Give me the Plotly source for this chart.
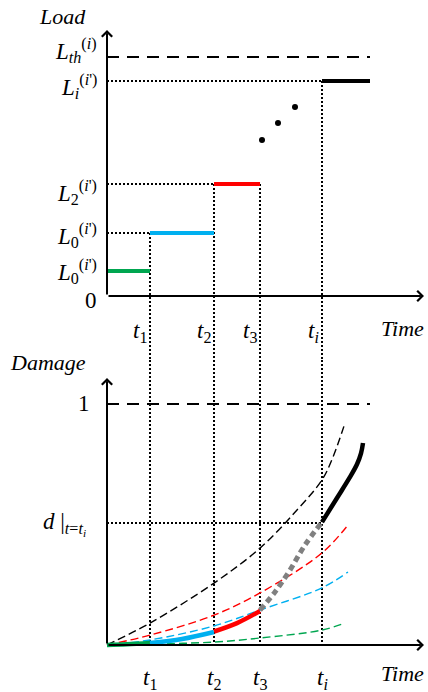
import plotly.graph_objects as go

# ---------------- data ----------------
# time marks t1, t2, t3, ti (common time units)
t_marks = [43, 107, 153, 215]
t_names = ["1", "2", "3", "i"]
t_end = 263            # end of the last load step
t_axis_end = 317       # arrow tip of time axes

# load history (top panel)
seg_start = [0, 43, 107, 215]
seg_end = [43, 107, 153, 263]
seg_level = [25, 63, 112, 215]
seg_color = ["#00A650", "#00B0F0", "#FF0000", "#000000"]
load_threshold = 239
load_axis_top = 266
dots_t = [155, 171, 188]
dots_load = [156, 173, 189]
vline_from = [63, 112, 112, 215]   # top of each vertical dotted line
hline_level = [63, 112, 215]       # dotted guide levels
hline_end = [43, 107, 215]

load_labels = [
    "<i>L</i><sub><i>th</i></sub><sup>(<i>i</i>)</sup>",
    "<i>L</i><sub><i>i</i></sub><sup>(<i>i</i>')</sup>",
    "<i>L</i><sub>2</sub><sup>(<i>i</i>')</sup>",
    "<i>L</i><sub>0</sub><sup>(<i>i</i>')</sup>",
    "<i>L</i><sub>0</sub><sup>(<i>i</i>')</sup>",
    "0",
]
load_label_y = [246, 210, 104, 61, 25, -4]

# damage curves (bottom panel)
dmg_t_black = [0, 43, 107, 153, 190, 215, 226, 238]
dmg_black = [0, 0.091, 0.257, 0.402, 0.560, 0.685, 0.780, 0.921]
dmg_t_red = [0, 43, 107, 153, 215, 241]
dmg_red = [0, 0.041, 0.124, 0.216, 0.382, 0.498]
dmg_t_blue = [0, 43, 107, 153, 215, 241]
dmg_blue = [0, 0.021, 0.079, 0.145, 0.237, 0.303]
dmg_t_green = [0, 43, 107, 153, 215, 238]
dmg_green = [0, 0.004, 0.012, 0.029, 0.062, 0.091]

path_t_green = [0, 20, 43]
path_green = [0, 0.003, 0.008]
path_t_blue = [43, 75, 107]
path_blue = [0.008, 0.025, 0.054]
path_t_red = [107, 130, 153]
path_red = [0.056, 0.091, 0.141]
path_t_gray = [153, 168, 183, 198, 215]
path_gray = [0.145, 0.220, 0.311, 0.415, 0.510]
path_t_black = [215, 230, 242, 250, 254, 256]
path_black = [0.510, 0.610, 0.690, 0.750, 0.795, 0.838]

damage_one = 1.0
d_ti = 0.506
damage_axis_top = 1.108

# ------------------------------------------------------------
FONT = "Liberation Serif, Times New Roman, serif"
DOT = "2px,2px"
fig = go.Figure()

def line(x, y, axis="y", color="black", width=2, dash=None, shape="linear"):
    fig.add_trace(go.Scatter(x=x, y=y, yaxis=axis, mode="lines",
                             line=dict(color=color, width=width, dash=dash, shape=shape),
                             hoverinfo="skip", showlegend=False))

GAP_LOAD = -64
GAP_DMG = 1.1826

# dotted guides
for lv, te in zip(hline_level, hline_end):
    line([0, te], [lv, lv], dash=DOT)
for tm, lv in zip(t_marks, vline_from):
    line([tm, tm], [lv, GAP_LOAD], dash=DOT)
    line([tm, tm], [GAP_DMG, 0], axis="y2", dash=DOT)
line([0, t_marks[3]], [d_ti, d_ti], axis="y2", dash=DOT)

# threshold dashed lines
line([0, t_end], [load_threshold, load_threshold], width=2, dash="12px,8px")
line([0, t_end], [damage_one, damage_one], axis="y2", width=2, dash="12px,8px")

# load steps
for s, e, lv, c in zip(seg_start, seg_end, seg_level, seg_color):
    line([s, e], [lv, lv], color=c, width=4)
fig.add_trace(go.Scatter(x=dots_t, y=dots_load, mode="markers",
                         marker=dict(color="black", size=6), hoverinfo="skip", showlegend=False))

# damage dashed curves
for tt, dd, c in [(dmg_t_black, dmg_black, "black"), (dmg_t_red, dmg_red, "#FF0000"),
                  (dmg_t_blue, dmg_blue, "#00B0F0"), (dmg_t_green, dmg_green, "#00A650")]:
    line(tt, dd, axis="y2", color=c, width=1.4, dash="8px,4px", shape="spline")

# damage path
line(path_t_gray, path_gray, axis="y2", color="#808080", width=5, dash="6px,4px", shape="spline")
for tt, dd, c in [(path_t_green, path_green, "#00A650"), (path_t_blue, path_blue, "#00B0F0"),
                  (path_t_red, path_red, "#FF0000"), (path_t_black, path_black, "black")]:
    line(tt, dd, axis="y2", color=c, width=4.5, shape="spline")

annotations = []

def arrow(x0, y0, x1, y1, yref):
    annotations.append(dict(x=x1, y=y1, ax=x0, ay=y0, xref="x", yref=yref,
                            axref="x", ayref=yref, text="", showarrow=True,
                            arrowhead=4, arrowsize=1, arrowwidth=2, arrowcolor="black",
                            standoff=0, startstandoff=0))

arrow(0, 0, 0, load_axis_top, "y")
arrow(0, 0, t_axis_end, 0, "y")
arrow(0, 0, 0, damage_axis_top, "y2")
arrow(0, 0, t_axis_end, 0, "y2")

def text(s, x, y, yref, size=23, xanchor="center", yanchor="middle"):
    annotations.append(dict(text=s, x=x, y=y, xref="x", yref=yref, showarrow=False,
                            xanchor=xanchor, yanchor=yanchor,
                            font=dict(family=FONT, size=size, color="black")))

text("<i>Load</i>", -45, 280, "y", size=22)
text("<i>Time</i>", 295, -32, "y", size=22)
for s, yy in zip(load_labels, load_label_y):
    text(s, -8, yy, "y", xanchor="right")
for tm, nm in zip(t_marks, t_names):
    sub = "<i>%s</i>" % nm if nm == "i" else nm
    text("<i>t</i><sub>%s</sub>" % sub, tm - 1, -36, "y", xanchor="right")
    text("<i>t</i><sub>%s</sub>" % sub, tm, -0.14, "y2")

text("<i>Damage</i>", -59, 1.17, "y2", size=22)
text("<i>Time</i>", 295, -0.12, "y2", size=22)
text("1", -23, 1.0, "y2")
text("<i>d</i> |<sub><i>t</i>=<i>t<sub>i</sub></i></sub>", -19, 0.50, "y2", xanchor="right")

fig.update_layout(
    width=428, height=692, margin=dict(l=0, r=0, t=0, b=0),
    paper_bgcolor="white", plot_bgcolor="white", showlegend=False,
    font=dict(family=FONT),
    xaxis=dict(range=[-107, 321], visible=False, fixedrange=True),
    yaxis=dict(range=[-396, 296], visible=False, fixedrange=True),
    yaxis2=dict(range=[-0.195, 2.676], visible=False, overlaying="y", fixedrange=True),
    annotations=annotations,
)
fig.write_html("out.html", config={"displayModeBar": False})
